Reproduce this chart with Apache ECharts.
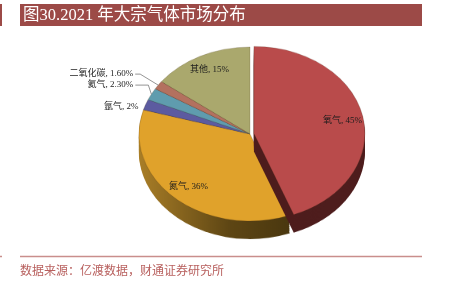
<!DOCTYPE html>
<html><head><meta charset="utf-8">
<script src="https://cdn.jsdelivr.net/npm/echarts@6/dist/echarts.min.js"></script>
<style>
html,body{margin:0;padding:0;background:#fff;}
#wrap{position:relative;width:458px;height:285px;overflow:hidden;background:#fff;}
#pie{position:absolute;left:0;top:0;width:458px;height:364px;transform:scaleY(0.784);transform-origin:0 0;}
#front{position:absolute;left:0;top:0;width:458px;height:285px;}
</style></head><body>
<div id="wrap"><div id="pie"></div><div id="front"></div></div>
<script>
// ---- data ----
const categories = ['氧气', '氮气', '氩气', '氦气', '二氧化碳', '其他'];
const values = [45, 36, 2, 2.3, 1.6, 15];
const valueLabels = ['45%', '36%', '2%', '2.30%', '1.60%', '15%'];
const titleText = '图30.2021 年大宗气体市场分布';
const sourceText = '数据来源：亿渡数据，财通证券研究所';

// ---- style / geometry ----
const topColors = ['#B94B4B', '#E0A22B', '#5C5BA0', '#5F9CAE', '#B3715F', '#AAA86D'];
const sideColors = ['#4E1D1D', null, '#35356a', '#3c6a78', '#774538', '#75734a'];
const CX = 250, CY = 134, RX = 111, SY = 0.784, DEPTH = 18, LAYERS = 9;
const RY = RX * SY;
const FONT = '"Liberation Serif","Noto Sans CJK SC",serif';

function pieData(colors) {
  return categories.map((n, i) => ({
    name: n, value: values[i], selected: i === 0,
    itemStyle: { color: colors[i] }
  }));
}
const orangeSide = new echarts.graphic.LinearGradient(0, 0, 1, 0, [
  { offset: 0, color: '#A97E27' }, { offset: 0.6, color: '#5E4614' }, { offset: 1, color: '#4A370F' }
]);
const sideCols = sideColors.map((c, i) => i === 1 ? orangeSide : c);

const pieSeries = [];
for (let k = LAYERS; k >= 1; k--) {
  pieSeries.push({
    type: 'pie', silent: true, animation: false,
    center: [CX, CY / SY + (k * DEPTH / LAYERS) / SY], radius: RX,
    startAngle: 90, selectedMode: 'single', selectedOffset: 4,
    label: { show: false }, labelLine: { show: false },
    itemStyle: { borderWidth: 0 },
    data: pieData(sideCols)
  });
}
pieSeries.push({
  type: 'pie', silent: true, animation: false,
  center: [CX, CY / SY], radius: RX,
  startAngle: 90, selectedMode: 'single', selectedOffset: 4,
  label: { show: false }, labelLine: { show: false },
  itemStyle: { borderWidth: 0.4, borderColor: 'rgba(60,40,20,0.5)' },
  data: pieData(topColors)
});
const chartA = echarts.init(document.getElementById('pie'));
chartA.setOption({ animation: false, series: pieSeries });

// ---- labels (front chart, unscaled) ----
const total = values.reduce((a, b) => a + b, 0);
let acc = 0;
const mids = values.map(v => { const m = (acc + v / 2) / total * Math.PI * 2; acc += v; return m; });
function pt(i, k) { return [CX + k * RX * Math.sin(mids[i]), CY - k * RY * Math.cos(mids[i])]; }
const INNER_K = 0.82;
const outside = { 2: { dx: -7, dy: 2, lead: 0 }, 3: { dx: -18, dy: -9, lead: 13 }, 4: { dx: -25, dy: -11, lead: 5 } };

const graphics = [
  { type: 'rect', shape: { x: 20, y: 4, width: 402, height: 22 }, style: { fill: '#9C4A47' } },
  { type: 'rect', shape: { x: 0, y: 4, width: 2, height: 22 }, style: { fill: '#9C4A47' } },
  { type: 'text', x: 23, y: 15.5, style: { text: titleText, fill: '#fff', font: '16.5px ' + FONT, verticalAlign: 'middle' } },
  { type: 'line', shape: { x1: 20, y1: 256.5, x2: 422, y2: 256.5 }, style: { stroke: '#C98E8C', lineWidth: 1.5 } },
  { type: 'line', shape: { x1: 0, y1: 256.5, x2: 2, y2: 256.5 }, style: { stroke: '#C98E8C', lineWidth: 1.5 } },
  { type: 'text', x: 20, y: 270, style: { text: sourceText, fill: '#B8605E', font: '12px "Noto Sans CJK SC",sans-serif', verticalAlign: 'middle' } }
];
Object.keys(outside).forEach(key => {
  const i = +key, o = outside[key];
  if (!o.lead) return;
  const e = pt(i, 1);
  const sx = e[0] + o.dx + 2, sy = e[1] + o.dy;
  graphics.push({ type: 'polyline', shape: { points: [[sx, sy], [sx + o.lead, sy], [e[0], e[1]]] },
    style: { stroke: '#7a7a7a', lineWidth: 0.8, fill: null } });
});

const chartB = echarts.init(document.getElementById('front'));
chartB.setOption({
  animation: false,
  graphic: graphics,
  series: [{
    type: 'pie', silent: true, animation: false,
    center: [CX, CY], radius: RX, startAngle: 90,
    itemStyle: { color: 'rgba(0,0,0,0)' },
    labelLine: { show: false },
    label: {
      show: true, position: 'inside', fontSize: 9, color: '#1c1c1c', fontFamily: FONT,
      formatter: p => categories[p.dataIndex] + ', ' + valueLabels[p.dataIndex]
    },
    labelLayout: p => {
      const i = p.dataIndex;
      if (outside[i]) {
        const e = pt(i, 1), o = outside[i];
        return { x: e[0] + o.dx, y: e[1] + o.dy, align: 'right', verticalAlign: 'middle' };
      }
      const q = pt(i, INNER_K);
      return { x: q[0] + (i === 0 ? 3 : 0), y: q[1], align: 'center', verticalAlign: 'middle' };
    },
    data: categories.map((n, i) => ({ name: n, value: values[i] }))
  }]
});
</script>
</body></html>
